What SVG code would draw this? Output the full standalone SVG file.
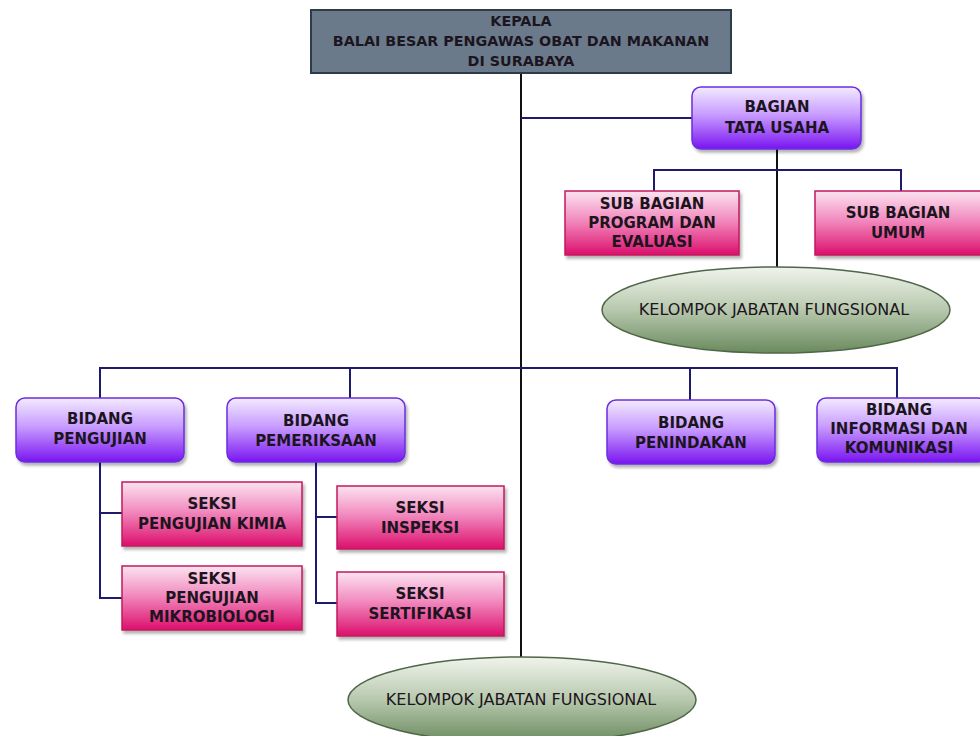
<svg xmlns="http://www.w3.org/2000/svg" width="980" height="736" viewBox="0 0 980 736">
<defs>
<linearGradient id="gPurple" x1="0" y1="0" x2="0" y2="1">
<stop offset="0" stop-color="#f3eaff"/><stop offset="0.45" stop-color="#c79bff"/><stop offset="1" stop-color="#7a14f0"/>
</linearGradient>
<linearGradient id="gPink" x1="0" y1="0" x2="0" y2="1">
<stop offset="0" stop-color="#fbe3f0"/><stop offset="0.45" stop-color="#f28cc0"/><stop offset="1" stop-color="#dc0f6c"/>
</linearGradient>
<linearGradient id="gGreen" x1="0" y1="0" x2="0" y2="1">
<stop offset="0" stop-color="#f0f4ec"/><stop offset="0.5" stop-color="#b7c8ad"/><stop offset="1" stop-color="#6a8a5e"/>
</linearGradient>
<filter id="sh" x="-10%" y="-10%" width="125%" height="130%">
<feDropShadow dx="2" dy="3" stdDeviation="1.5" flood-color="#000" flood-opacity="0.3"/>
</filter>
<style>
.purple{fill:url(#gPurple);stroke:#6a2ee0;stroke-width:1.5;filter:url(#sh)}
.pink{fill:url(#gPink);stroke:#c2185b;stroke-width:1.5;filter:url(#sh)}
.ell{fill:url(#gGreen);stroke:#4f6647;stroke-width:1.5}
.head{fill:#6b7a8b;stroke:#2e3b48;stroke-width:2}
text{font-family:"DejaVu Sans","Liberation Sans",sans-serif;font-weight:bold;fill:#1c1520;text-anchor:middle;font-size:15px}
.hd{font-size:14.3px}
.plain{font-weight:normal;font-size:16px}
.line{stroke:#1e1b6e;stroke-width:2;fill:none}
.main{stroke:#111;stroke-width:2;fill:none}
</style>
</defs>
<rect width="980" height="736" fill="#fff"/>
<g id="connectors">
<path class="main" d="M521,73 V657"/>
<path class="line" d="M521,118 H692"/>
<path class="main" d="M777,149 V268"/>
<path class="line" d="M654,191 V170 H901 V191"/>
<path class="line" d="M100,398 V368 H897 V398"/>
<path class="line" d="M350,368 V398"/>
<path class="line" d="M690,368 V400"/>
<path class="line" d="M100,462 V598 H122 M100,513 H122"/>
<path class="line" d="M316,462 V603 H337 M316,517 H337"/>
</g>
<g id="kepala">
<rect class="head" x="311" y="10" width="420" height="63"/>
<text class="hd" x="521" y="26">KEPALA</text>
<text class="hd" x="521" y="46">BALAI BESAR PENGAWAS OBAT DAN MAKANAN</text>
<text class="hd" x="521" y="66">DI SURABAYA</text>
</g>
<g id="bagian-tata-usaha">
<rect class="purple" x="692" y="87" width="169" height="62" rx="9"/>
<text x="777" y="112">BAGIAN</text>
<text x="777" y="133">TATA USAHA</text>
</g>
<g id="sub-bagian-program">
<rect class="pink" x="565" y="191" width="174" height="64"/>
<text x="652" y="209">SUB BAGIAN</text>
<text x="652" y="228">PROGRAM DAN</text>
<text x="652" y="247">EVALUASI</text>
</g>
<g id="sub-bagian-umum">
<rect class="pink" x="815" y="191" width="170" height="64"/>
<text x="898" y="218">SUB BAGIAN</text>
<text x="898" y="238">UMUM</text>
</g>
<g id="kjf-atas">
<ellipse class="ell" cx="776" cy="310" rx="174" ry="43"/>
<text class="plain" x="774" y="315">KELOMPOK JABATAN FUNGSIONAL</text>
</g>
<g id="bidang-pengujian">
<rect class="purple" x="16" y="398" width="168" height="64" rx="9"/>
<text x="100" y="424">BIDANG</text>
<text x="100" y="444">PENGUJIAN</text>
</g>
<g id="bidang-pemeriksaan">
<rect class="purple" x="227" y="398" width="178" height="64" rx="9"/>
<text x="316" y="426">BIDANG</text>
<text x="316" y="446">PEMERIKSAAN</text>
</g>
<g id="bidang-penindakan">
<rect class="purple" x="607" y="400" width="168" height="64" rx="9"/>
<text x="691" y="428">BIDANG</text>
<text x="691" y="448">PENINDAKAN</text>
</g>
<g id="bidang-informasi">
<rect class="purple" x="817" y="398" width="170" height="64" rx="9"/>
<text x="899" y="415">BIDANG</text>
<text x="899" y="434">INFORMASI DAN</text>
<text x="899" y="453">KOMUNIKASI</text>
</g>
<g id="seksi-kimia">
<rect class="pink" x="122" y="482" width="180" height="64"/>
<text x="212" y="509">SEKSI</text>
<text x="212" y="529">PENGUJIAN KIMIA</text>
</g>
<g id="seksi-mikrobiologi">
<rect class="pink" x="122" y="566" width="180" height="64"/>
<text x="212" y="584">SEKSI</text>
<text x="212" y="603">PENGUJIAN</text>
<text x="212" y="622">MIKROBIOLOGI</text>
</g>
<g id="seksi-inspeksi">
<rect class="pink" x="337" y="486" width="167" height="63"/>
<text x="420" y="513">SEKSI</text>
<text x="420" y="533">INSPEKSI</text>
</g>
<g id="seksi-sertifikasi">
<rect class="pink" x="337" y="572" width="167" height="64"/>
<text x="420" y="599">SEKSI</text>
<text x="420" y="619">SERTIFIKASI</text>
</g>
<g id="kjf-bawah">
<ellipse class="ell" cx="522" cy="700" rx="174" ry="43"/>
<text class="plain" x="521" y="705">KELOMPOK JABATAN FUNGSIONAL</text>
</g>
</svg>
